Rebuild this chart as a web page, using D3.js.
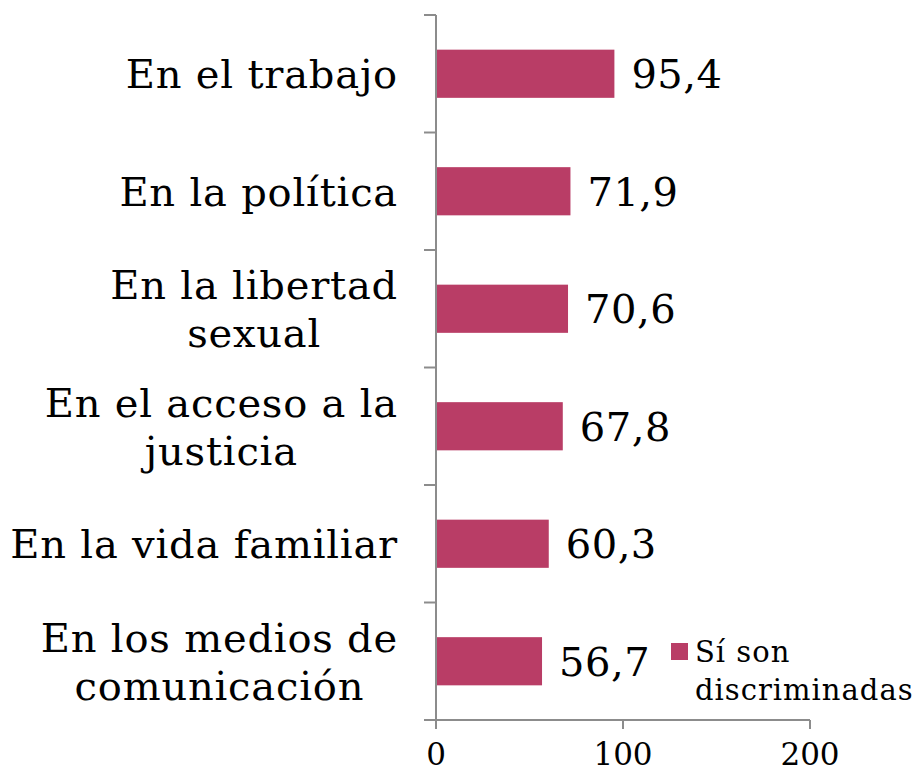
<!DOCTYPE html>
<html>
<head>
<meta charset="utf-8">
<script src="https://cdn.jsdelivr.net/npm/d3@7"></script>
<style>
  body { margin: 0; background: #fff; }
  svg text { font-family: "DejaVu Serif", serif; fill: #000; }
</style>
</head>
<body>
<svg id="chart" width="920" height="772"></svg>
<script>
// data
const categories = [
  ["En el trabajo"],
  ["En la política"],
  ["En la libertad", "sexual"],
  ["En el acceso a la", "justicia"],
  ["En la vida familiar"],
  ["En los medios de", "comunicación"]
];
const values = [95.4, 71.9, 70.6, 67.8, 60.3, 56.7];
const xTicks = [0, 100, 200];
const seriesName = ["Sí son", "discriminadas"];

const svg = d3.select("#chart");
const barColor = "#b93d66",
      axisColor = "#8c8c8c";

const x = d3.scaleLinear().domain([0, 200]).range([436, 810]);
const y = d3.scaleBand()
  .domain(d3.range(categories.length))
  .range([15, 720])
  .paddingInner(0.59)
  .paddingOuter(0.295);

// bars
svg.selectAll("rect.bar")
  .data(values)
  .enter().append("rect")
    .attr("class", "bar")
    .attr("x", x(0))
    .attr("y", (d, i) => y(i))
    .attr("width", d => x(d) - x(0))
    .attr("height", y.bandwidth())
    .attr("fill", barColor);

// value labels
svg.selectAll("text.val")
  .data(values)
  .enter().append("text")
    .attr("class", "val")
    .attr("x", d => x(d) + 17)
    .attr("y", (d, i) => y(i) + y.bandwidth() / 2)
    .attr("dy", "0.36em")
    .style("font-size", "40px")
    .style("letter-spacing", "0.5px")
    .text(d => d3.format(".1f")(d).replace(".", ","));

// y axis line + category ticks at band edges
const edges = d3.range(categories.length + 1).map(i => 15 + i * (705 / categories.length));
const axes = svg.append("g").attr("stroke", axisColor).attr("stroke-width", 2);
axes.append("line").attr("x1", x(0)).attr("x2", x(0)).attr("y1", 15).attr("y2", 720);
axes.selectAll("line.yt").data(edges).enter().append("line")
  .attr("x1", x(0) - 12).attr("x2", x(0)).attr("y1", d => d).attr("y2", d => d);

// x axis
axes.append("line").attr("x1", x(0)).attr("x2", x(200)).attr("y1", 720).attr("y2", 720);
axes.selectAll("line.xt").data(xTicks).enter().append("line")
  .attr("x1", d => x(d)).attr("x2", d => x(d)).attr("y1", 720).attr("y2", 729);

svg.selectAll("text.xt")
  .data(xTicks)
  .enter().append("text")
    .attr("x", d => x(d))
    .attr("y", 765)
    .attr("text-anchor", "middle")
    .style("font-size", "31px")
    .text(d => d);

// category labels: lines centred on each other, block right-aligned at 398
const lineH = 48;
categories.forEach((lines, i) => {
  const cy = y(i) + y.bandwidth() / 2;
  const t = svg.append("text")
    .attr("text-anchor", "middle")
    .style("font-size", "40px")
    .style("letter-spacing", "0.8px");
  const spans = lines.map((ln, j) =>
    t.append("tspan")
      .attr("y", cy + (j - (lines.length - 1) / 2) * lineH)
      .attr("dy", "0.36em")
      .text(ln));
  const maxW = d3.max(spans, s => s.node().getComputedTextLength());
  spans.forEach(s => s.attr("x", 398 - maxW / 2));
});

// legend
const lg = svg.append("g").attr("transform", "translate(671,643)");
lg.append("rect").attr("width", 17).attr("height", 17).attr("fill", barColor);
const lt = lg.append("text").style("font-size", "29px").style("letter-spacing", "1px");
seriesName.forEach((s, j) => {
  lt.append("tspan").attr("x", 24).attr("y", 19 + j * 38).text(s);
});
</script>
</body>
</html>
